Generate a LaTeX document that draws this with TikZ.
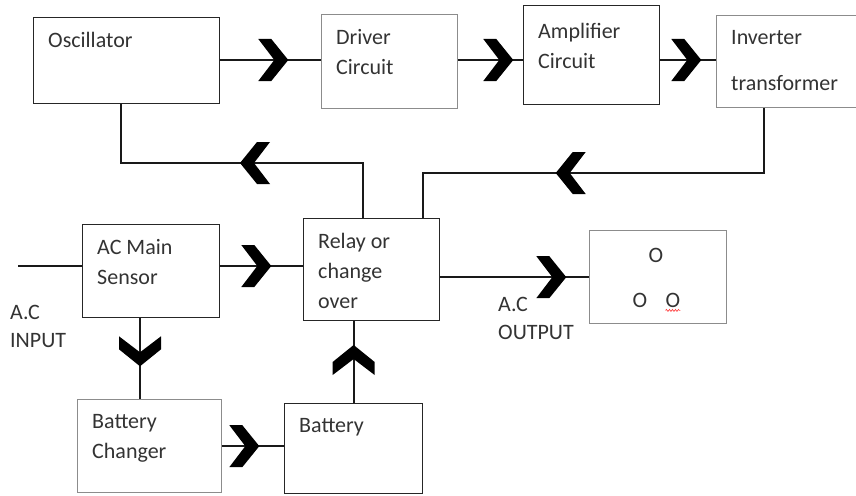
\documentclass[tikz,border=0pt]{standalone}
\usepackage{fontspec}
\setmainfont{Carlito}
\usetikzlibrary{arrows.meta, calc, decorations.markings, decorations.pathmorphing}
\tikzset{
    blk/.style 2 args={draw=black!85, line width=1.3pt, rectangle, anchor=north west,
        minimum width=#1, minimum height=#2, inner sep=0pt},
    blkl/.style 2 args={blk={#1}{#2}, draw=black!45},
    txt/.style={anchor=north west, align=left, inner sep=0pt, text=black!80,
        font=\fontsize{22}{30}\selectfont, xshift=15pt, yshift=-15pt},
    plain/.style={inner sep=0pt, text=black!80, font=\fontsize{22}{28}\selectfont, align=left},
    conn/.style={line width=2pt, black!90},
    chev/.style={postaction={decorate, decoration={markings, mark=at position #1 with
        {\fill[black] (0pt,0pt) -- (-17pt,21pt) -- (-30pt,21pt) -- (-14pt,0pt)
              -- (-30pt,-21pt) -- (-17pt,-21pt) -- cycle;}}}}
}

\begin{document}
\begin{tikzpicture}[x=1pt, y=-1pt]
    \useasboundingbox (0,0) rectangle (856,495);
    % Blocks
    \node[blk={186pt}{86pt}, label={[txt]north west:Oscillator}] (osc) at (33,17) {};
    \node[blkl={136pt}{94pt}, label={[txt]north west:{Driver\\Circuit}}] (drv) at (321,14) {};
    \node[blk={136pt}{99pt}, label={[txt, yshift=-3pt]north west:{Amplifier\\Circuit}}] (amp) at (523,5) {};
    \node[blkl={150pt}{92pt}, label={[txt]north west:{Inverter\\[16pt]transformer}}] (inv) at (716,15) {};
    \node[blk={137pt}{93pt}, label={[txt]north west:{AC Main\\Sensor}}] (sensor) at (82,224) {};
    \node[blk={136pt}{102pt}, label={[txt]north west:{Relay or\\change\\over}}] (relay) at (303,218) {};
    \node[blkl={137pt}{93pt}] (out) at (589,230) {};
    \node[blkl={144pt}{93pt}, label={[txt]north west:{Battery\\Changer}}] (changer) at (77,399) {};
    \node[blk={138pt}{90pt}, label={[txt]north west:Battery}] (battery) at (284,403) {};

    % Output sockets
    \node[plain] (o1) at (656,255) {O};
    \node[plain] (o2) at (640,300) {O};
    \node[plain] (o3) at (673,300) {O};
    \draw[red!80, line width=0.6pt, decorate, decoration={snake, amplitude=1pt, segment length=3pt}]
        ([yshift=-3pt]o3.south west) -- ([yshift=-3pt]o3.south east);

    % A.C labels
    \node[plain, anchor=north west] (acinl) at (10,305) {A.C\\INPUT};
    \node[plain, anchor=north west] (acoutl) at (498,297) {A.C\\OUTPUT};

    % Forward chain
    \coordinate (row) at (0,60);
    \draw[conn, chev=68pt] (osc.east |- row) -- (drv.west |- row);
    \draw[conn, chev=55pt] (drv.east |- row) -- (amp.west |- row);
    \draw[conn, chev=41pt] (amp.east |- row) -- (inv.west |- row);

    % Feedback to oscillator and relay
    \coordinate (fbl) at (363,163); \coordinate (fbl2) at (121,163);
    \coordinate (fbr) at (764,173); \coordinate (fbr2) at (423,173);
    \draw[conn, chev=178pt] (relay.north -| fbl) -- (fbl) -- (fbl2) -- (osc.south -| fbl2);
    \draw[conn, chev=273pt] (inv.south -| fbr) -- (fbr) -- (fbr2) -- (relay.north -| fbr2);

    % Mains side
    \coordinate (acin) at (18,266);
    \coordinate (chg) at (140,0);
    \draw[conn] (acin) -- (acin -| sensor.west);
    \draw[conn, chev=51pt] (acin -| sensor.east) -- (acin -| relay.west);
    \draw[conn, chev=126pt] (relay.east |- out.west) -- (out.west);
    \draw[conn, chev=48pt] (sensor.south -| chg) -- (changer.north -| chg);
    \draw[conn, chev=37pt] (changer.east) -- (changer.east -| battery.west);
    \draw[conn, chev=58pt] (battery.north) -- (battery.north |- relay.south);
\end{tikzpicture}
\end{document}
